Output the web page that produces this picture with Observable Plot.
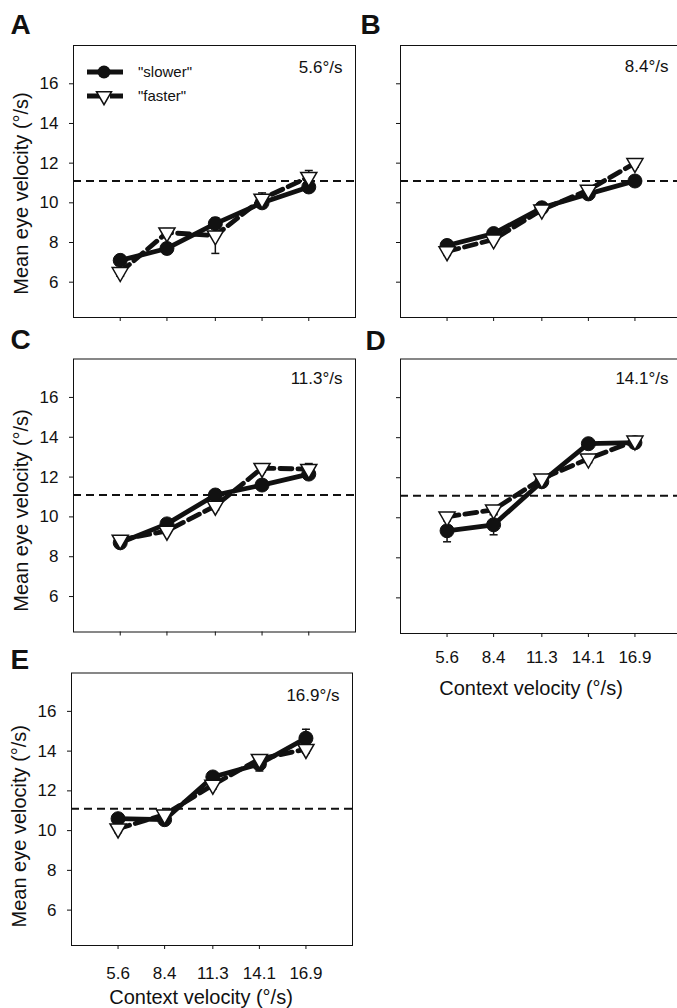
<!DOCTYPE html>
<html><head><meta charset="utf-8">
<script src="https://cdn.jsdelivr.net/npm/d3@7"></script>
<script src="https://cdn.jsdelivr.net/npm/@observablehq/plot@0.6"></script>
<style>
body{margin:0;background:#fff;}
#chart{position:relative;width:677px;height:1008px;overflow:hidden;background:#fff;font-family:"Liberation Sans",Arial,sans-serif;}
#chart svg{position:absolute;}
#chart svg [aria-label$="tick label"], #chart svg [aria-label$="tick label"] text{font-size:17px !important;}
</style></head><body><div id="chart"></div>
<script>
// ---- data ----
const contextVelocities = [5.6, 8.4, 11.3, 14.1, 16.9];
const xTickLabels = ["5.6", "8.4", "11.3", "14.1", "16.9"];
const yTicks = [6, 8, 10, 12, 14, 16];
const panelLetters = ["A", "B", "C", "D", "E"];
const targetLabels = ["5.6°/s", "8.4°/s", "11.3°/s", "14.1°/s", "16.9°/s"];
const seriesNames = ["\"slower\"", "\"faster\""];
const referenceVelocity = 11.1;

const slowerA = [7.1, 7.7, 8.95, 10.0, 10.8];
const fasterA = [6.5, 8.5, 8.35, 10.2, 11.3];
const slowerErrA = [0.2, 0.2, 0.2, 0.25, 0.2];
const fasterErrA = [0.2, 0.2, 0.9, 0.3, 0.33];

const slowerB = [7.85, 8.45, 9.75, 10.45, 11.1];
const fasterB = [7.55, 8.15, 9.65, 10.65, 12.0];
const slowerErrB = [0.15, 0.15, 0.15, 0.2, 0.2];
const fasterErrB = [0.2, 0.15, 0.15, 0.2, 0.2];

const slowerC = [8.7, 9.65, 11.1, 11.6, 12.15];
const fasterC = [8.85, 9.3, 10.55, 12.45, 12.4];
const slowerErrC = [0.15, 0.2, 0.2, 0.2, 0.2];
const fasterErrC = [0.15, 0.15, 0.2, 0.2, 0.28];

const slowerD = [9.35, 9.65, 11.8, 13.7, 13.75];
const fasterD = [10.05, 10.4, 11.95, 12.95, 13.85];
const slowerErrD = [0.55, 0.5, 0.2, 0.2, 0.2];
const fasterErrD = [0.2, 0.2, 0.2, 0.2, 0.2];

const slowerE = [10.6, 10.55, 12.7, 13.35, 14.65];
const fasterE = [10.1, 10.8, 12.3, 13.6, 14.1];
const slowerErrE = [0.2, 0.2, 0.2, 0.35, 0.45];
const fasterErrE = [0.2, 0.2, 0.2, 0.2, 0.2];

// ---- symbols ----
const triangleDown = {
  draw(ctx, size) {
    const r = Math.sqrt(size / Math.PI);
    const s = r * 2.3, h = s * Math.sqrt(3) / 2;
    ctx.moveTo(-s / 2, -h / 3); ctx.lineTo(s / 2, -h / 3); ctx.lineTo(0, 2 * h / 3); ctx.closePath();
  }
};
const capSymbol = {
  draw(ctx, size) {
    const r = Math.sqrt(size / Math.PI);
    ctx.moveTo(-r, 0); ctx.lineTo(r, 0);
  }
};

const FONT = "'Liberation Sans', Arial, Helvetica, sans-serif";
const chart = document.getElementById("chart");

function rows(values, errs) {
  return contextVelocities.map((x, i) => ({x, y: values[i], lo: values[i] - errs[i], hi: values[i] + errs[i]}));
}

function panel(cfg) {
  const [sl, st, sw, sh] = cfg.svg;
  const [fl, ft, fr, fb] = cfg.frame;
  const slow = rows(cfg.slower, cfg.slowerErr);
  const fast = rows(cfg.faster, cfg.fasterErr);
  const marks = [
    Plot.frame({stroke: "#111", strokeWidth: 1}),
    Plot.axisY(yTicks, {tickSize: 4, tickPadding: 11, fontSize: 17,
      tickFormat: cfg.yLabels ? (d => String(d)) : (() => ""), label: null}),
    Plot.axisX(contextVelocities, {tickSize: 4, tickPadding: cfg.xPad ?? 13, fontSize: 17,
      tickFormat: cfg.xLabels ? (d => xTickLabels[contextVelocities.indexOf(d)]) : (() => ""), label: null}),
    Plot.ruleY([referenceVelocity], {stroke: "#111", strokeWidth: 2.2, strokeDasharray: "8,5"}),
    Plot.line(slow, {x: "x", y: "y", stroke: "#111", strokeWidth: 4.8}),
    Plot.line(fast, {x: "x", y: "y", stroke: "#111", strokeWidth: 4.8, strokeDasharray: "12,6"}),
    Plot.ruleX(slow, {x: "x", y1: "lo", y2: "hi", stroke: "#111", strokeWidth: 1.5}),
    Plot.dot(slow, {x: "x", y: "lo", symbol: capSymbol, r: 4, stroke: "#111", strokeWidth: 1.5, fill: "none"}),
    Plot.dot(slow, {x: "x", y: "hi", symbol: capSymbol, r: 4, stroke: "#111", strokeWidth: 1.5, fill: "none"}),
    Plot.ruleX(fast, {x: "x", y1: "lo", y2: "hi", stroke: "#111", strokeWidth: 1.5}),
    Plot.dot(fast, {x: "x", y: "lo", symbol: capSymbol, r: 4, stroke: "#111", strokeWidth: 1.5, fill: "none"}),
    Plot.dot(fast, {x: "x", y: "hi", symbol: capSymbol, r: 4, stroke: "#111", strokeWidth: 1.5, fill: "none"}),
    Plot.dot(slow, {x: "x", y: "y", r: 7, fill: "#111", stroke: "#111", strokeWidth: 1}),
    Plot.dot(fast, {x: "x", y: "y", r: 7, symbol: triangleDown, fill: "white", stroke: "#111", strokeWidth: 1.5}),
    Plot.text([cfg.letter], {frameAnchor: "top-left", dx: cfg.letterDx, dy: cfg.letterDy,
      textAnchor: "start", lineAnchor: "bottom", fontSize: 28, fontWeight: "bold", fill: "#111"}),
    Plot.text([cfg.target], {frameAnchor: "top-right", dx: -13, dy: cfg.targetDy ?? 26,
      textAnchor: "end", lineAnchor: "bottom", fontSize: 17, fill: "#111"})
  ];
  if (cfg.yLabels) {
    marks.push(Plot.text(["Mean eye velocity (°/s)"], {frameAnchor: "left", dx: -46, dy: cfg.yTitleDy,
      rotate: -90, textAnchor: "middle", lineAnchor: "bottom", fontSize: 20, fill: "#111"}));
  }
  if (cfg.xLabels) {
    marks.push(Plot.text(["Context velocity (°/s)"], {frameAnchor: "bottom", dx: cfg.xTitleDx, dy: cfg.xTitleDy,
      textAnchor: "middle", lineAnchor: "bottom", fontSize: 20, fill: "#111"}));
  }
  const svg = Plot.plot({
    width: sw, height: sh,
    marginLeft: fl - sl, marginTop: ft - st, marginRight: sl + sw - fr, marginBottom: st + sh - fb,
    x: {type: "linear", domain: [2.8, 19.7]},
    y: {type: "linear", domain: [4.22, 17.93]},
    style: {fontFamily: FONT, fontSize: "17px", color: "#111", background: "transparent", overflow: "visible"},
    marks
  });
  svg.style.left = sl + "px";
  svg.style.top = st + "px";
  chart.appendChild(svg);
  return svg;
}

panel({letter: panelLetters[0], target: targetLabels[0], slower: slowerA, faster: fasterA,
  slowerErr: slowerErrA, fasterErr: fasterErrA, svg: [0, 0, 360, 335], frame: [73, 45, 355, 317],
  yLabels: true, xLabels: false, yTitleDy: 12, letterDx: -63, letterDy: -12, targetDy: 27});
panel({letter: panelLetters[1], target: targetLabels[1], slower: slowerB, faster: fasterB,
  slowerErr: slowerErrB, fasterErr: fasterErrB, svg: [340, 0, 345, 335], frame: [400, 45, 681, 317],
  yLabels: false, xLabels: false, letterDx: -40, letterDy: -12, targetDy: 26});
panel({letter: panelLetters[2], target: targetLabels[2], slower: slowerC, faster: fasterC,
  slowerErr: slowerErrC, fasterErr: fasterErrC, svg: [0, 320, 360, 330], frame: [73, 358.5, 355, 631.5],
  yLabels: true, xLabels: false, yTitleDy: 15, letterDx: -63, letterDy: -10.5, targetDy: 25});
panel({letter: panelLetters[3], target: targetLabels[3], slower: slowerD, faster: fasterD,
  slowerErr: slowerErrD, fasterErr: fasterErrD, svg: [340, 320, 345, 385], frame: [400, 358.5, 681, 633],
  yLabels: false, xLabels: true, xPad: 13, xTitleDx: -10, xTitleDy: 61, letterDx: -35, letterDy: -9.5, targetDy: 25});
panel({letter: panelLetters[4], target: targetLabels[4], slower: slowerE, faster: fasterE,
  slowerErr: slowerErrE, fasterErr: fasterErrE, svg: [0, 640, 360, 368], frame: [71, 672.5, 352, 945],
  yLabels: true, xLabels: true, xPad: 17, xTitleDx: -11, xTitleDy: 58, yTitleDy: 17, letterDx: -61, letterDy: -4, targetDy: 27.5});

// ---- legend (panel A) ----
const leg = d3.select(chart).append("svg")
  .attr("width", 130).attr("height", 50)
  .style("left", "82px").style("top", "58px")
  .style("font-family", FONT);
const legendRows = [{name: seriesNames[0], cy: 14, dash: null, sym: "circle"},
                    {name: seriesNames[1], cy: 38, dash: "12,6", sym: "tri"}];
legendRows.forEach(r => {
  leg.append("line").attr("x1", 5).attr("x2", 41).attr("y1", r.cy).attr("y2", r.cy)
    .attr("stroke", "#111").attr("stroke-width", 4.8)
    .attr("stroke-dasharray", r.dash ? "13,10" : null);
  if (r.sym === "circle") {
    leg.append("circle").attr("cx", 22).attr("cy", r.cy).attr("r", 6.5).attr("fill", "#111");
  } else {
    const s = 15, h = s * Math.sqrt(3) / 2;
    leg.append("path").attr("transform", `translate(22,${r.cy})`)
      .attr("d", `M${-s/2},${-h/3}L${s/2},${-h/3}L0,${2*h/3}Z`)
      .attr("fill", "white").attr("stroke", "#111").attr("stroke-width", 1.5);
  }
  leg.append("text").attr("x", 56).attr("y", r.cy).attr("dy", "0.35em")
    .attr("font-size", 15).attr("fill", "#111").text(r.name);
});
</script></body></html>
